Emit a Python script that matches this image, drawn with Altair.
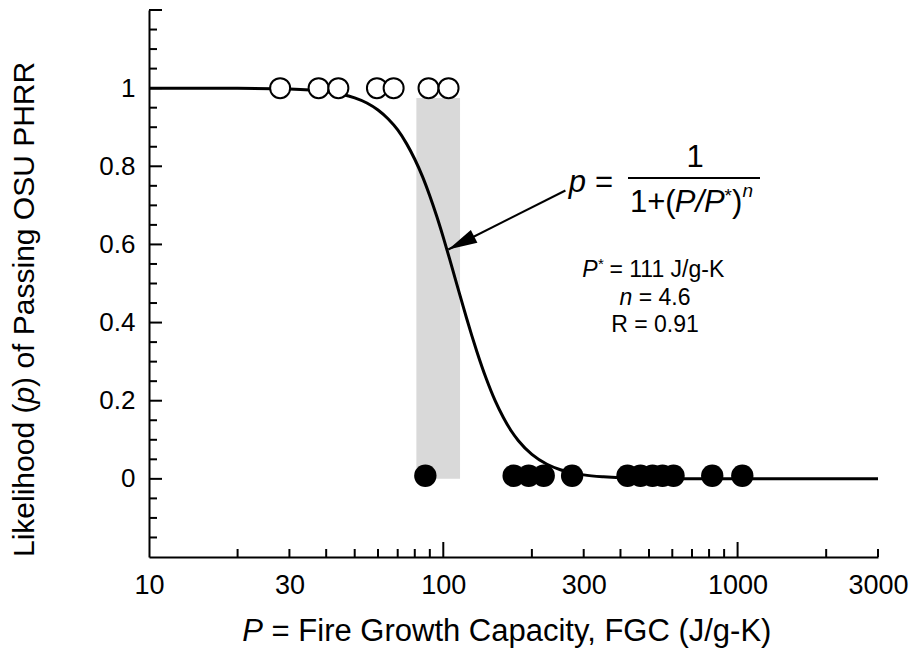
import altair as alt
import pandas as pd

FONT = "Liberation Sans"

# ---------------- data ----------------
open_fgc = [27.9, 37.7, 44.0, 59.5, 67.8, 89.1, 104.2]
open_p = [1, 1, 1, 1, 1, 1, 1]

filled_fgc = [86.9, 173.4, 195.1, 219.4, 274.0, 422.6, 467.8, 513.9, 555.7, 605.8, 820.1, 1037.6]
filled_p = [0.008, 0.008, 0.008, 0.008, 0.008, 0.008, 0.008, 0.008, 0.008, 0.008, 0.008, 0.008]

curve_fgc = [10, 20, 30, 40, 45, 50, 55, 60, 65, 70, 75, 80, 85, 90, 95, 100, 105, 110,
             115, 120, 125, 130, 140, 150, 160, 170, 180, 200, 225, 250, 300, 350, 400,
             600, 1000, 3000]
curve_p = [1.0, 0.9996, 0.9976, 0.991, 0.9845, 0.975, 0.962, 0.944, 0.921, 0.893, 0.858,
           0.818, 0.7735, 0.724, 0.672, 0.618, 0.5636, 0.510, 0.4594, 0.411, 0.3667, 0.326,
           0.256, 0.200, 0.1569, 0.123, 0.0976, 0.0625, 0.0373, 0.0233, 0.0102, 0.0051,
           0.0027, 0.0004, 0.0, 0.0]

band_fgc = [81, 114]
band_p = [0, 0.975]

arrow_fgc = [260, 104]
arrow_p = [0.738, 0.587]

x_label_values = [10, 30, 100, 300, 1000, 3000]
y_label_values = [0, 0.2, 0.4, 0.6, 0.8, 1]

x_minor_ticks = [20, 30, 40, 50, 60, 70, 80, 90, 200, 300, 400, 500, 600, 700, 800, 900, 2000, 3000]
x_major_ticks = [100, 1000]
y_major_ticks = [0, 0.2, 0.4, 0.6, 0.8, 1.0, 1.2]
y_minor_ticks = [-0.15, -0.1, -0.05, 0.05, 0.1, 0.15, 0.25, 0.3, 0.35, 0.45, 0.5, 0.55,
                 0.65, 0.7, 0.75, 0.85, 0.9, 0.95, 1.05, 1.1, 1.15]

# ---------------- scales / axes ----------------
xs = alt.Scale(type="log", domain=[10, 3000], nice=False)
ys = alt.Scale(domain=[-0.2, 1.2], nice=False, zero=False)
W, H = 729, 547

xaxis = alt.Axis(
    values=x_label_values, labelExpr="format(datum.value, 'd')", title=None,
    ticks=False, grid=False, domain=True, domainColor="black", domainWidth=2,
    labelFontSize=27, labelFont=FONT, labelColor="black", labelPadding=15,
    labelOverlap=False, labelFlush=False, labelBound=False)
yaxis = alt.Axis(
    values=y_label_values,
    labelExpr="datum.value == 0 ? '0' : (datum.value == 1 ? '1' : format(datum.value, '.1f'))",
    title=None, ticks=False, grid=False, domain=True, domainColor="black", domainWidth=2,
    labelFontSize=26, labelFont=FONT, labelColor="black", labelPadding=14,
    labelOverlap=False, labelFlush=False, labelBound=False)


def X(field):
    return alt.X(field, scale=xs, axis=xaxis)


def Y(field):
    return alt.Y(field, scale=ys, axis=yaxis)


curve_df = pd.DataFrame({"fgc": curve_fgc, "p": curve_p})
open_df = pd.DataFrame({"fgc": open_fgc, "p": open_p})
filled_df = pd.DataFrame({"fgc": filled_fgc, "p": filled_p})
band_df = pd.DataFrame({"fgc": [band_fgc[0]], "fgc2": [band_fgc[1]],
                        "p": [band_p[0]], "p2": [band_p[1]]})
arrow_df = pd.DataFrame({"fgc": arrow_fgc, "p": arrow_p})
tip_df = pd.DataFrame({"fgc": [arrow_fgc[1]], "p": [arrow_p[1]]})

band = alt.Chart(band_df).mark_rect(color="#d9d9d9").encode(
    x=X("fgc:Q"), x2="fgc2:Q", y=Y("p:Q"), y2="p2:Q")

curve = alt.Chart(curve_df).mark_line(color="black", strokeWidth=3, interpolate="monotone").encode(
    x=X("fgc:Q"), y=Y("p:Q"))

arrow_line = alt.Chart(arrow_df).mark_line(color="black", strokeWidth=2).encode(
    x=X("fgc:Q"), y=Y("p:Q"))

arrow_head = alt.Chart(tip_df).mark_point(
    shape="M0,0 L0.5,2 L-0.5,2 Z", filled=True, color="black", opacity=1,
    size=840, angle=243, strokeWidth=0).encode(x=X("fgc:Q"), y=Y("p:Q"))

open_pts = alt.Chart(open_df).mark_circle(
    fill="white", stroke="black", strokeWidth=2, size=400, opacity=1).encode(
    x=X("fgc:Q"), y=Y("p:Q"))

filled_pts = alt.Chart(filled_df).mark_circle(color="black", size=500, opacity=1).encode(
    x=X("fgc:Q"), y=Y("p:Q"))


# inward ticks
def xticks(vals, length):
    return alt.Chart(pd.DataFrame({"fgc": vals})).mark_rule(color="black", strokeWidth=2).encode(
        x=X("fgc:Q"), y=alt.value(H), y2=alt.value(H - length))


def yticks(vals, length):
    return alt.Chart(pd.DataFrame({"p": vals})).mark_rule(color="black", strokeWidth=2).encode(
        y=Y("p:Q"), x=alt.value(0), x2=alt.value(length))


# text helper (pixel positions relative to plot area)
def txt(s, x, y, size=31, italic=False, align="left", angle=0):
    return alt.Chart(alt.Data(values=[{}])).mark_text(
        text=s, font=FONT, fontSize=size, fontStyle="italic" if italic else "normal",
        align=align, baseline="middle", angle=angle, color="black").encode(
        x=alt.value(x), y=alt.value(y))


texts = [
    # x-axis title
    txt("P", 114, 622, size=31, italic=True, align="right"),
    txt("= Fire Growth Capacity, FGC (J/g-K)", 122.6, 622, size=31),
    # y-axis title (rotated)
    txt("Likelihood (", -124, 547, size=30, angle=270),
    txt("p", -124, 393.6, size=30, italic=True, angle=270),
    txt(") of Passing OSU PHRR", -124, 376.9, size=30, angle=270),
    # formula
    txt("p", 437, 173, italic=True, align="right"),
    txt("=", 446, 173),
    txt("1", 546, 148, align="center"),
    txt("1+(", 481, 193),
    txt("P/P", 525.7, 193, italic=True),
    txt("*", 575.5, 186, size=19),
    txt(")", 583, 193),
    txt("n", 593.5, 181, size=19, italic=True),
    # parameters
    txt("P", 433.3, 260, size=23, italic=True),
    txt("*", 449, 254, size=15),
    txt("= 111 J/g-K", 460.4, 260, size=23),
    txt("n", 470.5, 288, size=23, italic=True),
    txt("= 4.6", 489.7, 288, size=23),
    txt("R = 0.91", 506, 315, size=23, align="center"),
]

frac_line = alt.Chart(alt.Data(values=[{}])).mark_rule(color="black", strokeWidth=2).encode(
    x=alt.value(479), x2=alt.value(611), y=alt.value(168))

chart = alt.layer(
    band, curve, arrow_line, arrow_head, open_pts, filled_pts,
    xticks(x_minor_ticks, 8), xticks(x_major_ticks, 15),
    yticks(y_minor_ticks, 8), yticks(y_major_ticks, 13),
    frac_line, *texts
).properties(
    width=W, height=H,
    autosize=alt.AutoSizeParams(type="none"),
    padding={"left": 149, "top": 10, "right": 31, "bottom": 103},
    background="white"
).configure_view(stroke=None)

chart.save("out.html", embed_options={"renderer": "svg", "actions": False})
